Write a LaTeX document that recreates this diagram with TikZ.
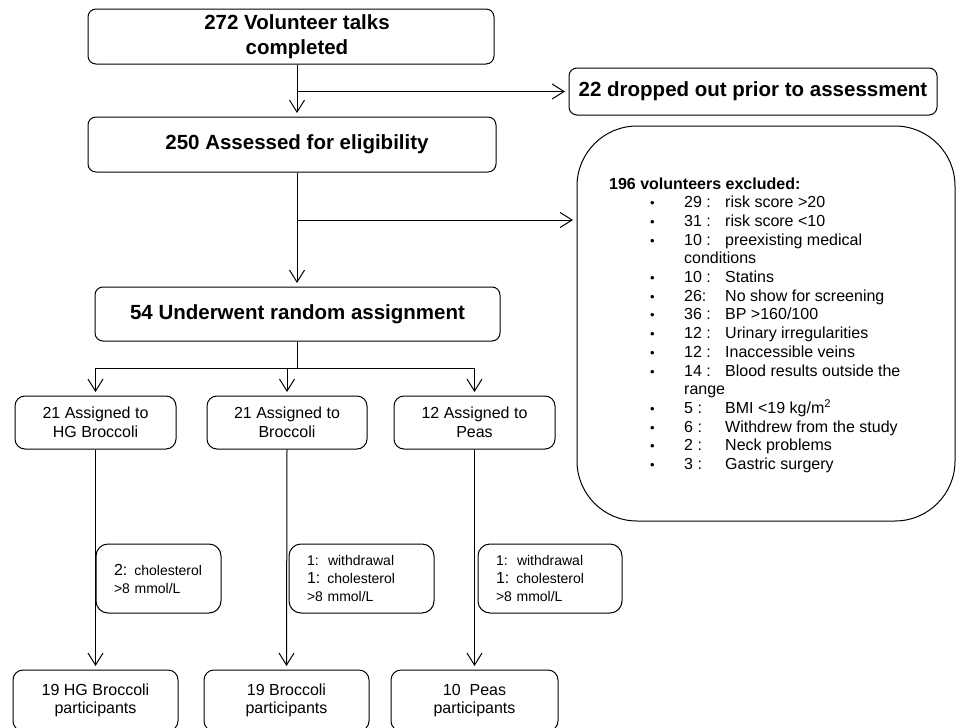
\documentclass[tikz,border=0pt]{standalone}
\usepackage{fontspec}
\setmainfont{Liberation Sans}
\usetikzlibrary{arrows.meta,calc}
\newcommand{\fsz}[2]{\fontsize{#1}{#2}\selectfont}
\begin{document}
\begin{tikzpicture}[x=1pt,y=-1pt,
  ln/.style={line width=1pt,draw=black},
  arr/.style={ln,-{Straight Barb[length=12pt,width=15pt,line width=1pt]},shorten >=3.5pt},
  bigbox/.style={draw,line width=1pt,rounded corners=8pt,inner sep=0pt,align=center,
    font=\fsz{20.5}{25}\bfseries},
  midbox/.style={draw,line width=1pt,rounded corners=10pt,inner sep=0pt,align=center,
    font=\fsz{16}{18.5}},
  sidebox/.style={draw,line width=1pt,rounded corners=12pt,inner xsep=18pt,inner ysep=0pt,
    align=left,font=\fsz{14}{18}},
  exbox/.style={draw,line width=1pt,rounded corners=60pt,inner sep=0pt},
  extext/.style={inner sep=0pt,anchor=base west,font=\fsz{16}{18.5}}
]
\useasboundingbox (0,0) rectangle (956,728);
\clip (0,0) rectangle (956,728);
\fill[white] (0,0) rectangle (956,728);

% main column
\node[bigbox,minimum width=406,minimum height=55] (b1) at (291,36.5)
  {\hspace*{12pt}272 Volunteer talks\\\hspace*{12pt}completed};
\node[bigbox,minimum width=368,minimum height=47] (d22) at (753,91.5) {22 dropped out prior to assessment};
\node[bigbox,minimum width=408,minimum height=55] (b2) at (292,144.5)
  {\hspace*{10pt}250 Assessed for eligibility};
\node[bigbox,minimum width=405,minimum height=54] (b3) at (297.5,314) {54 Underwent random assignment};

% exclusion box
\node[exbox,minimum width=378,minimum height=395] (excl) at (766,323.5) {};
\node[extext,font=\fsz{16}{18.5}\bfseries] (exh) at (609,189) {196 volunteers excluded:};
\foreach \k/\b/\n/\t in {
  1/1/{29 :}/{risk score >20},
  2/1/{31 :}/{risk score <10},
  3/1/{10 :}/{preexisting medical},
  4/0/{conditions}/{},
  5/1/{10 :}/{Statins},
  6/1/{26:}/{No show for screening},
  7/1/{36 :}/{BP >160/100},
  8/1/{12 :}/{Urinary irregularities},
  9/1/{12 :}/{Inaccessible veins},
  10/1/{14 :}/{Blood results outside the},
  11/0/{range}/{},
  12/1/{5 :}/{BMI <19 kg/m\textsuperscript{2}},
  13/1/{6 :}/{Withdrew from the study},
  14/1/{2 :}/{Neck problems},
  15/1/{3 :}/{Gastric surgery}}{
  \pgfmathsetmacro{\yy}{189+18.7*\k}
  \ifnum\b=1
    \node[extext,font=\fsz{13}{18.5}] (eb\k) at (650,\yy) {•};
  \fi
  \node[extext] (en\k) at (684,\yy) {\n};
  \node[extext] (et\k) at (725,\yy) {\t};
}

% arms
\node[midbox,minimum width=161,minimum height=53] (a1) at (95.5,422.5) {21 Assigned to\\HG Broccoli};
\node[midbox,minimum width=160,minimum height=53] (a2) at (287,422.5) {21 Assigned to\\Broccoli};
\node[midbox,minimum width=161,minimum height=53] (a3) at (474.5,422.5) {12 Assigned to\\Peas};

\node[sidebox,text width=89,minimum height=69] (s1) at (158.5,578.5)
  {{\fsz{16}{18}2:} cholesterol\\>8 mmol/L};
\node[sidebox,text width=109,minimum height=69] (s2) at (361.5,578.5)
  {1:\ \ withdrawal\\{\fsz{16}{18}1:} cholesterol\\>8 mmol/L};
\node[sidebox,text width=108,minimum height=69] (s3) at (550,578.5)
  {1:\ \ withdrawal\\{\fsz{16}{18}1:} cholesterol\\>8 mmol/L};

\node[midbox,minimum width=165,minimum height=61] (f1) at (95.5,700.5) {19 HG Broccoli\\participants};
\node[midbox,minimum width=165,minimum height=61] (f2) at (286.5,700.5) {19 Broccoli\\participants};
\node[midbox,minimum width=167,minimum height=61] (f3) at (474.5,700.5) {10~ Peas\\participants};

% connectors
\coordinate (sx) at (297,0);
\coordinate (j2) at (297,220);
\coordinate (j3) at (297,368);
\draw[arr] (b1.south -| sx) -- (b2.north -| sx);
\draw[arr] (d22.west -| sx) -- (d22.west);
\draw[arr] (b2.south -| sx) -- (b3.north -| sx);
\draw[arr] (j2) -- (excl.west |- j2);
\draw[ln] (b3.south -| sx) -- (j3);
\draw[ln] (a1.north |- j3) -- (a3.north |- j3);
\draw[arr] (a1.north |- j3) -- (a1.north);
\draw[arr] (a2.north |- j3) -- (a2.north);
\draw[arr] (a3.north |- j3) -- (a3.north);
\draw[arr] (a1.south) -- (f1.north);
\draw[arr] (a2.south) -- (f2.north);
\draw[arr] (a3.south) -- (f3.north);
\end{tikzpicture}
\end{document}
